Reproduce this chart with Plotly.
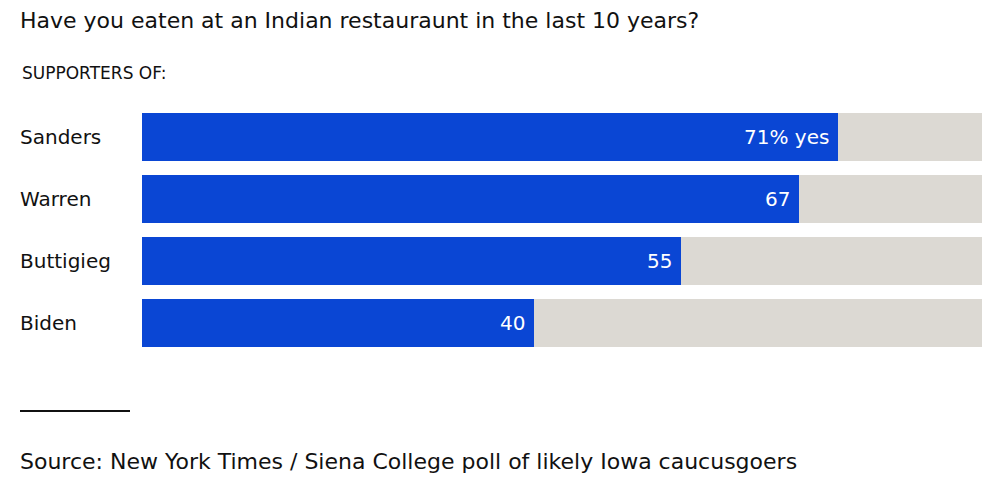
import plotly.graph_objects as go

categories = ["Sanders", "Warren", "Buttigieg", "Biden"]
values = [71, 67, 55, 40]
labels = ["71% yes", "67", "55", "40"]
full = [100, 100, 100, 100]

W, H = 982, 498
L, T = 142, 106
PH = 248
B = H - T - PH
PW = W - L

BLUE = "#0a46d4"
GREY = "#dcd9d3"
INK = "#111111"
FONT = "DejaVu Sans, Liberation Sans, Arial, sans-serif"


def px(pix):
    return (pix - 2 - L) / PW


def py(pix):
    return (H - B - pix) / PH


fig = go.Figure()
fig.add_trace(go.Bar(
    y=categories, x=full, orientation="h", marker=dict(color=GREY, line_width=0),
    width=0.77, hoverinfo="skip", showlegend=False,
))
fig.add_trace(go.Bar(
    y=categories, x=values, orientation="h", marker=dict(color=BLUE, line_width=0),
    width=0.77, showlegend=False,
))

for c, v, t in zip(categories, values, labels):
    fig.add_annotation(x=px(20), xref="paper", y=c, yref="y", text=c, showarrow=False,
                       xanchor="left", yanchor="middle",
                       font=dict(size=20, color=INK, family=FONT))
    fig.add_annotation(x=v, xref="x", y=c, yref="y", text=t, showarrow=False,
                       xanchor="right", yanchor="middle", xshift=-7,
                       font=dict(size=20, color="white", family=FONT))

fig.update_layout(
    width=W, height=H,
    margin=dict(l=L, r=0, t=T, b=B, pad=0),
    paper_bgcolor="white", plot_bgcolor="white",
    barmode="overlay", bargap=0,
    xaxis=dict(range=[0, 85.7], visible=False, fixedrange=True),
    yaxis=dict(autorange="reversed", visible=False, fixedrange=True,
               categoryorder="array", categoryarray=categories),
)

fig.add_annotation(x=px(20), xref="paper", y=py(20), yref="paper",
                   text="Have you eaten at an Indian restauraunt in the last 10 years?",
                   showarrow=False, xanchor="left", yanchor="middle",
                   font=dict(size=22, color=INK, family=FONT))
fig.add_annotation(x=px(22), xref="paper", y=py(73), yref="paper",
                   text="SUPPORTERS OF:", showarrow=False, xanchor="left", yanchor="middle",
                   font=dict(size=17, color=INK, family=FONT))
fig.add_annotation(x=px(20), xref="paper", y=py(461), yref="paper",
                   text="Source: New York Times / Siena College poll of likely Iowa caucusgoers",
                   showarrow=False, xanchor="left", yanchor="middle",
                   font=dict(size=22, color=INK, family=FONT))
fig.add_shape(type="line", xref="paper", yref="paper", x0=px(22), x1=px(132),
              y0=py(411), y1=py(411), line=dict(color=INK, width=2))

fig.write_html(
    "out.html",
    config={"displayModeBar": False},
    post_script="document.body.style.margin='0';document.documentElement.style.overflow='hidden';",
)
